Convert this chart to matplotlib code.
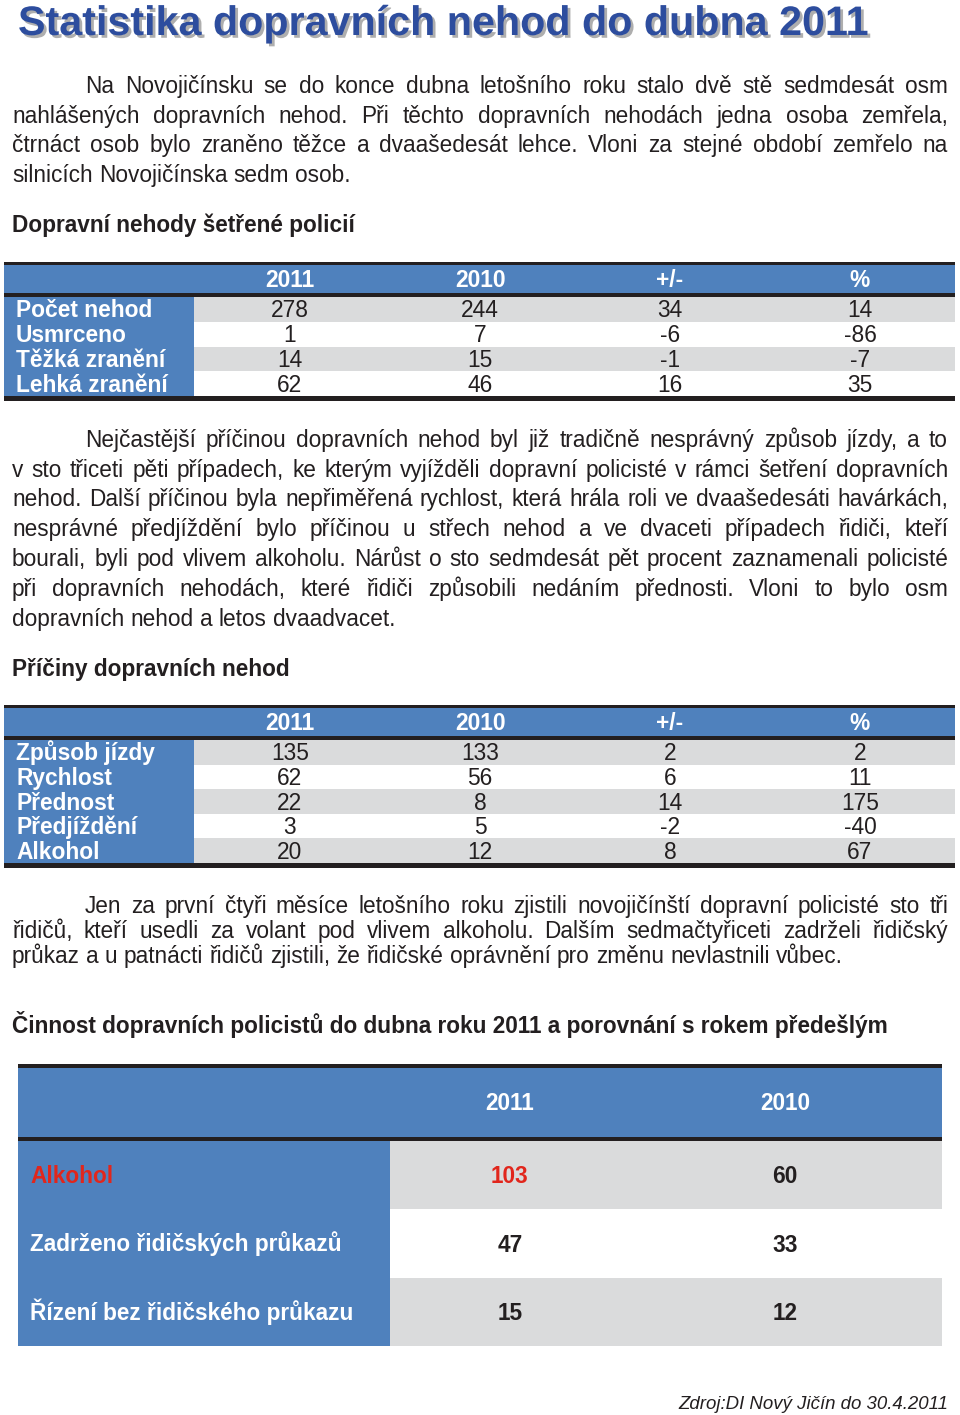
import matplotlib
matplotlib.use("Agg")
import matplotlib.pyplot as plt
from matplotlib.patches import Rectangle
import matplotlib.patheffects as pe

# ---------------- data ----------------
title = "Statistika dopravních nehod do dubna 2011"

para1 = [
    "Na Novojičínsku se do konce dubna letošního roku stalo dvě stě sedmdesát osm",
    "nahlášených dopravních nehod. Při těchto dopravních nehodách jedna osoba zemřela,",
    "čtrnáct osob bylo zraněno těžce a dvaašedesát lehce. Vloni za stejné období zemřelo na",
    "silnicích Novojičínska sedm osob.",
]
heading1 = "Dopravní nehody šetřené policií"
t1_cols = ["2011", "2010", "+/-", "%"]
t1_rows = ["Počet nehod", "Usmrceno", "Těžká zranění", "Lehká zranění"]
t1_2011 = [278, 1, 14, 62]
t1_2010 = [244, 7, 15, 46]
t1_diff = [34, -6, -1, 16]
t1_pct = [14, -86, -7, 35]

para2 = [
    "Nejčastější příčinou dopravních nehod byl již tradičně nesprávný způsob jízdy, a to",
    "v sto třiceti pěti případech, ke kterým vyjížděli dopravní policisté v rámci šetření dopravních",
    "nehod. Další příčinou byla nepřiměřená rychlost, která hrála roli ve dvaašedesáti havárkách,",
    "nesprávné předjíždění bylo příčinou u střech nehod a ve dvaceti případech řidiči, kteří",
    "bourali, byli pod vlivem alkoholu. Nárůst o sto sedmdesát pět procent zaznamenali policisté",
    "při dopravních nehodách, které řidiči způsobili nedáním přednosti. Vloni to bylo osm",
    "dopravních nehod a letos dvaadvacet.",
]
heading2 = "Příčiny dopravních nehod"
t2_cols = ["2011", "2010", "+/-", "%"]
t2_rows = ["Způsob jízdy", "Rychlost", "Přednost", "Předjíždění", "Alkohol"]
t2_2011 = [135, 62, 22, 3, 20]
t2_2010 = [133, 56, 8, 5, 12]
t2_diff = [2, 6, 14, -2, 8]
t2_pct = [2, 11, 175, -40, 67]

para3 = [
    "Jen za první čtyři měsíce letošního roku zjistili novojičínští dopravní policisté sto tři",
    "řidičů, kteří usedli za volant pod vlivem alkoholu. Dalším sedmačtyřiceti zadrželi řidičský",
    "průkaz a u patnácti řidičů zjistili, že řidičské oprávnění pro změnu nevlastnili vůbec.",
]
heading3 = "Činnost dopravních policistů do dubna roku 2011 a porovnání s rokem předešlým"
t3_cols = ["2011", "2010"]
t3_rows = ["Alkohol", "Zadrženo řidičských průkazů", "Řízení bez řidičského průkazu"]
t3_2011 = [103, 47, 15]
t3_2010 = [60, 33, 12]

source = "Zdroj:DI Nový Jičín do 30.4.2011"

# ---------------- style ----------------
FONT = ["Liberation Sans", "DejaVu Sans"]
BLUE = "#4F81BD"
GRAY = "#DADBDC"
DARK = "#231F20"
TITLE_BLUE = "#2D4D9E"
RED = "#E1261C"
BODY_FS = 16.3
TAB_FS = 16.4

W, H = 960, 1415
fig = plt.figure(figsize=(W / 100, H / 100), dpi=100)
ax = fig.add_axes([0, 0, 1, 1])
ax.set_xlim(0, W)
ax.set_ylim(H, 0)
ax.axis("off")
fig.canvas.draw()
R = fig.canvas.get_renderer()


def tw(s, **kw):
    t = ax.text(0, 0, s, family=FONT, **kw)
    w = t.get_window_extent(R).width
    t.remove()
    return w


def justify(line, x0, x1, y, last=False, **kw):
    words = line.split(" ")
    widths = [tw(w, **kw) for w in words]
    if last or len(words) == 1:
        gap = tw("a a", **kw) - tw("aa", **kw)
    else:
        gap = (x1 - x0 - sum(widths)) / (len(words) - 1)
    x = x0
    for w, wd in zip(words, widths):
        ax.text(x, y, w, ha="left", va="baseline", family=FONT, color=DARK, **kw)
        x += wd + gap


def paragraph(lines, baselines, indent=85, left=12, right=948):
    for i, (ln, y) in enumerate(zip(lines, baselines)):
        x0 = indent if i == 0 else left
        justify(ln, x0, right, y, last=(i == len(lines) - 1), fontsize=BODY_FS)


def fit_fs(s, width, **kw):
    w = tw(s, fontsize=20, **kw)
    return 20 * width / w


# ---------------- title ----------------
tfs = fit_fs(title, 850, weight="bold")
ax.text(18, 35, title, ha="left", va="baseline", family=FONT, weight="bold",
        fontsize=tfs, color=TITLE_BLUE,
        path_effects=[pe.SimplePatchShadow(offset=(2, -2), shadow_rgbFace="#9A9A9A", alpha=0.8),
                      pe.Normal()])

# ---------------- paragraph 1 ----------------
paragraph(para1, [93, 123, 152, 182])
ax.text(12, 232, heading1, ha="left", va="baseline", family=FONT, weight="bold",
        fontsize=BODY_FS, color=DARK)


# ---------------- small tables ----------------
def small_table(top, rows_bottom, rows, cols, cols_vals):
    x0, x1, lab_w = 4, 955, 194
    col_x = [290, 480, 670, 860]
    ax.add_patch(Rectangle((x0, top), x1 - x0, 3, color=DARK, lw=0))
    hdr_top = top + 3
    hdr_bot = hdr_top + 28
    ax.add_patch(Rectangle((x0, hdr_top), x1 - x0, hdr_bot - hdr_top, color=BLUE, lw=0))
    ax.add_patch(Rectangle((x0, hdr_bot), x1 - x0, 4, color=DARK, lw=0))
    r0 = hdr_bot + 4
    rh = (rows_bottom - r0) / len(rows)
    ax.add_patch(Rectangle((x0, r0), lab_w - x0, rows_bottom - r0, color=BLUE, lw=0))
    for i in range(len(rows)):
        if i % 2 == 0:
            ax.add_patch(Rectangle((lab_w, r0 + i * rh), x1 - lab_w, rh, color=GRAY, lw=0))
    ax.add_patch(Rectangle((x0, rows_bottom), x1 - x0, 5, color=DARK, lw=0))
    hc = (hdr_top + hdr_bot) / 2
    for cx, c in zip(col_x, cols):
        ax.text(cx, hc + 8, c, ha="center", va="baseline", family=FONT, weight="bold",
                fontsize=TAB_FS, color="white")
    for i, lab in enumerate(rows):
        yc = r0 + (i + 0.5) * rh + 8
        ax.text(16, yc, lab, ha="left", va="baseline", family=FONT, weight="bold",
                fontsize=TAB_FS, color="white")
        for cx, vals in zip(col_x, cols_vals):
            ax.text(cx, yc, str(vals[i]), ha="center", va="baseline", family=FONT,
                    fontsize=TAB_FS, color=DARK)


small_table(262, 396, t1_rows, t1_cols, [t1_2011, t1_2010, t1_diff, t1_pct])

# ---------------- paragraph 2 ----------------
paragraph(para2, [447, 477, 506, 536, 566, 596, 626])
ax.text(12, 676, heading2, ha="left", va="baseline", family=FONT, weight="bold",
        fontsize=BODY_FS, color=DARK)

small_table(705, 863, t2_rows, t2_cols, [t2_2011, t2_2010, t2_diff, t2_pct])

# ---------------- paragraph 3 ----------------
paragraph(para3, [913, 938, 963])
ax.text(12, 1033, heading3, ha="left", va="baseline", family=FONT, weight="bold",
        fontsize=BODY_FS, color=DARK)

# ---------------- big table ----------------
x0, x1, lab_w = 18, 942, 390
ax.add_patch(Rectangle((x0, 1064), x1 - x0, 4, color=DARK, lw=0))
ax.add_patch(Rectangle((x0, 1068), x1 - x0, 69, color=BLUE, lw=0))
ax.add_patch(Rectangle((x0, 1137), x1 - x0, 4, color=DARK, lw=0))
r0, rb = 1141, 1346
rh = (rb - r0) / len(t3_rows)
ax.add_patch(Rectangle((x0, r0), lab_w - x0, rb - r0, color=BLUE, lw=0))
for i in range(len(t3_rows)):
    if i % 2 == 0:
        ax.add_patch(Rectangle((lab_w, r0 + i * rh), x1 - lab_w, rh, color=GRAY, lw=0))
col3_x = [510, 785]
T3_FS = 16.3
for cx, c in zip(col3_x, t3_cols):
    ax.text(cx, 1102 + 8, c, ha="center", va="baseline", family=FONT, weight="bold",
            fontsize=T3_FS, color="white")
for i, lab in enumerate(t3_rows):
    yc = r0 + (i + 0.5) * rh + 8
    col = RED if i == 0 else "white"
    ax.text(30, yc, lab, ha="left", va="baseline", family=FONT, weight="bold",
            fontsize=T3_FS, color=col)
    for j, (cx, vals) in enumerate(zip(col3_x, [t3_2011, t3_2010])):
        vcol = RED if (i == 0 and j == 0) else DARK
        ax.text(cx, yc, str(vals[i]), ha="center", va="baseline", family=FONT,
                weight="bold", fontsize=T3_FS, color=vcol)

# ---------------- source ----------------
sfs = fit_fs(source, 270, style="italic")
ax.text(948, 1409, source, ha="right", va="baseline", family=FONT, style="italic",
        fontsize=sfs, color=DARK)

fig.savefig("out.png", dpi=100, facecolor="white")
